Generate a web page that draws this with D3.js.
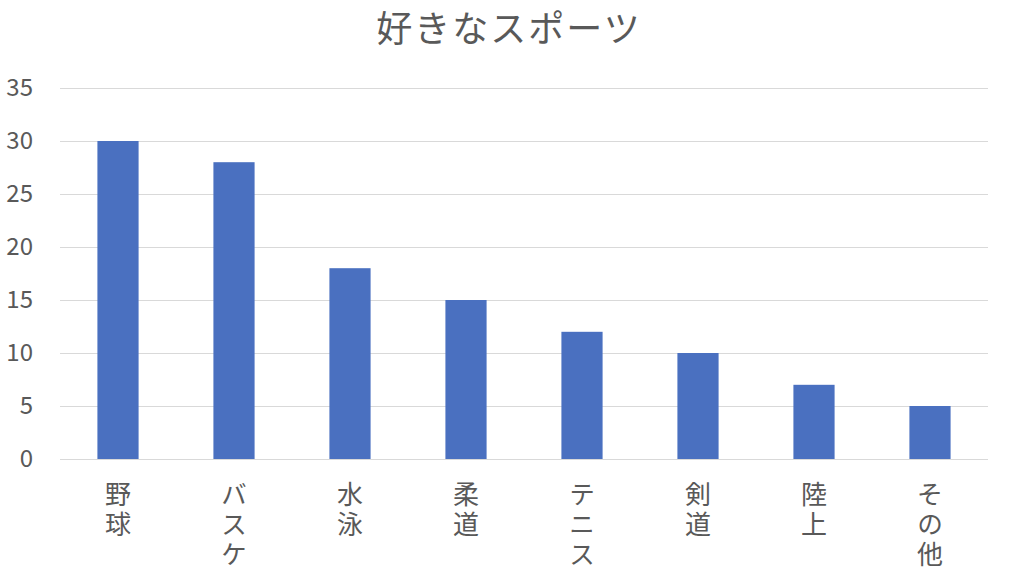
<!DOCTYPE html>
<html>
<head>
<meta charset="utf-8">
<script src="https://cdn.jsdelivr.net/npm/d3@7"></script>
<style>
  body { margin: 0; background: #fff; }
  svg text { font-family: "Noto Sans CJK JP", "Noto Sans", sans-serif; fill: #595959; }
</style>
</head>
<body>
<svg></svg>
<script>
var width = 1024,
	height = 575;

var categories = ["野球", "バスケ", "水泳", "柔道", "テニス", "剣道", "陸上", "その他"];
var values = [30, 28, 18, 15, 12, 10, 7, 5];
var yTicks = [0, 5, 10, 15, 20, 25, 30, 35];
var title = "好きなスポーツ";

var margin = {left: 60, right: 36, top: 88, bottom: 116};

var svg = d3.select("svg")
			.attr("width", width)
			.attr("height", height);

var x = d3.scaleBand()
			.domain(categories)
			.range([margin.left, width - margin.right])
			.paddingInner(0.645)
			.paddingOuter(0.3225);

var y = d3.scaleLinear()
			.domain([0, 35])
			.range([height - margin.bottom, margin.top]);

// gridlines
svg.append("g")
	.selectAll("line")
	.data(yTicks)
	.enter()
	.append("line")
	.attr("x1", margin.left)
	.attr("x2", width - margin.right)
	.attr("y1", function(d) { return Math.round(y(d)) + 0.5; })
	.attr("y2", function(d) { return Math.round(y(d)) + 0.5; })
	.attr("stroke", "#d9d9d9")
	.attr("stroke-width", 1);

// y tick labels
svg.append("g")
	.selectAll("text")
	.data(yTicks)
	.enter()
	.append("text")
	.attr("x", 33)
	.attr("y", function(d) { return y(d); })
	.attr("dy", "0.35em")
	.attr("text-anchor", "end")
	.style("font-size", "24px")
	.text(function(d) { return d; });

// bars
svg.append("g")
	.selectAll("rect")
	.data(values)
	.enter()
	.append("rect")
	.attr("x", function(d, i) { return x(categories[i]); })
	.attr("width", x.bandwidth())
	.attr("y", function(d) { return y(d); })
	.attr("height", function(d) { return y(0) - y(d); })
	.attr("fill", "#4a70c0");

// x labels, written vertically
svg.append("g")
	.selectAll("text")
	.data(categories)
	.enter()
	.append("text")
	.attr("x", function(d) { return x(d) + x.bandwidth() / 2; })
	.attr("y", 481)
	.style("writing-mode", "vertical-rl")
	.style("text-orientation", "upright")
	.style("font-size", "26px")
	.style("letter-spacing", "4px")
	.text(function(d) { return d; });

// title
svg.append("text")
	.attr("x", 509)
	.attr("y", 42)
	.attr("text-anchor", "middle")
	.style("font-size", "36px")
	.style("letter-spacing", "2px")
	.text(title);
</script>
</body>
</html>
